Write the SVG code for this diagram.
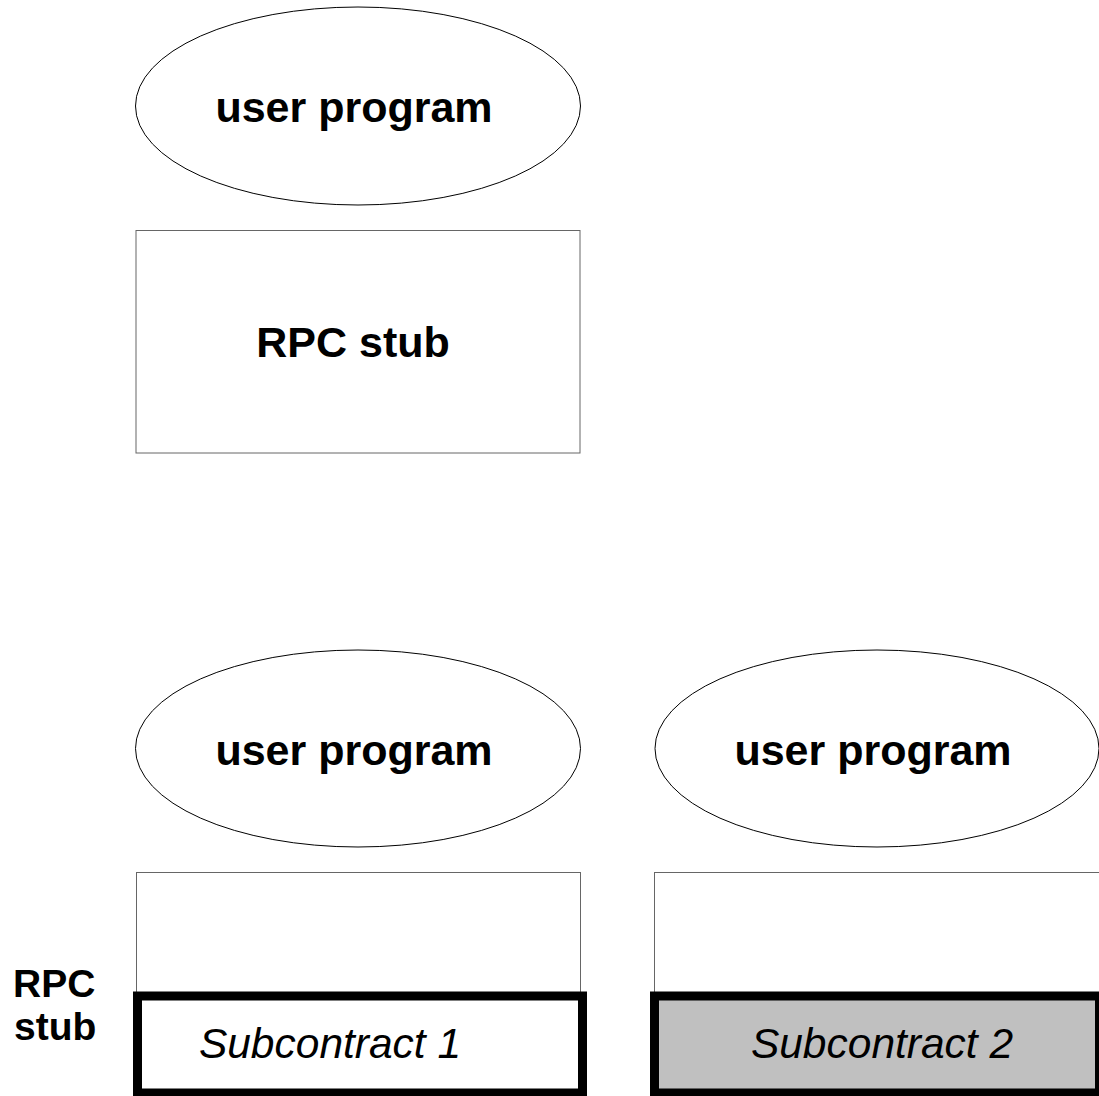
<svg xmlns="http://www.w3.org/2000/svg" width="1099" height="1096" viewBox="0 0 1099 1096">
<style>
.thin{fill:#fff;stroke:#000;stroke-width:1}
.box{fill:#fff;stroke:#666;stroke-width:1}
.thick{stroke:#000;stroke-width:9}
.lbl{font-family:"Liberation Sans",Arial,sans-serif;font-weight:bold;font-size:43px;fill:#000}
.side{font-family:"Liberation Sans",Arial,sans-serif;font-weight:bold;font-size:39px;fill:#000}
.sub{font-family:"Liberation Sans",Arial,sans-serif;font-style:italic;font-size:42.5px;fill:#000}
</style>
<rect width="1099" height="1096" fill="#fff"/>
<g id="user-program-1">
<ellipse class="thin" cx="358" cy="106" rx="222.5" ry="99"/>
<text class="lbl" x="354" y="122" text-anchor="middle">user program</text>
</g>
<g id="rpc-stub-1">
<rect class="box" x="136" y="230.5" width="444" height="222.5"/>
<text class="lbl" x="353" y="357" text-anchor="middle">RPC stub</text>
</g>
<g id="user-program-2">
<ellipse class="thin" cx="358" cy="748.5" rx="222.5" ry="98.5"/>
<text class="lbl" x="354" y="765" text-anchor="middle">user program</text>
</g>
<g id="user-program-3">
<ellipse class="thin" cx="877" cy="748.5" rx="222" ry="98.5"/>
<text class="lbl" x="873" y="765" text-anchor="middle">user program</text>
</g>
<g id="stub-1">
<rect class="box" x="136.5" y="872.5" width="444" height="124"/>
<rect class="thick" x="137.5" y="996" width="445" height="97" fill="#fff"/>
<text class="sub" x="330" y="1058" text-anchor="middle">Subcontract 1</text>
</g>
<g id="stub-2">
<rect class="box" x="654.5" y="872.5" width="446" height="124"/>
<rect class="thick" x="654.5" y="996" width="445" height="97" fill="#c0c0c0"/>
<text class="sub" x="882" y="1058" text-anchor="middle">Subcontract 2</text>
</g>
<g id="rpc-label">
<text class="side" x="13" y="997">RPC</text>
<text class="side" x="14" y="1040">stub</text>
</g>
<g id="connectors"></g>
</svg>
